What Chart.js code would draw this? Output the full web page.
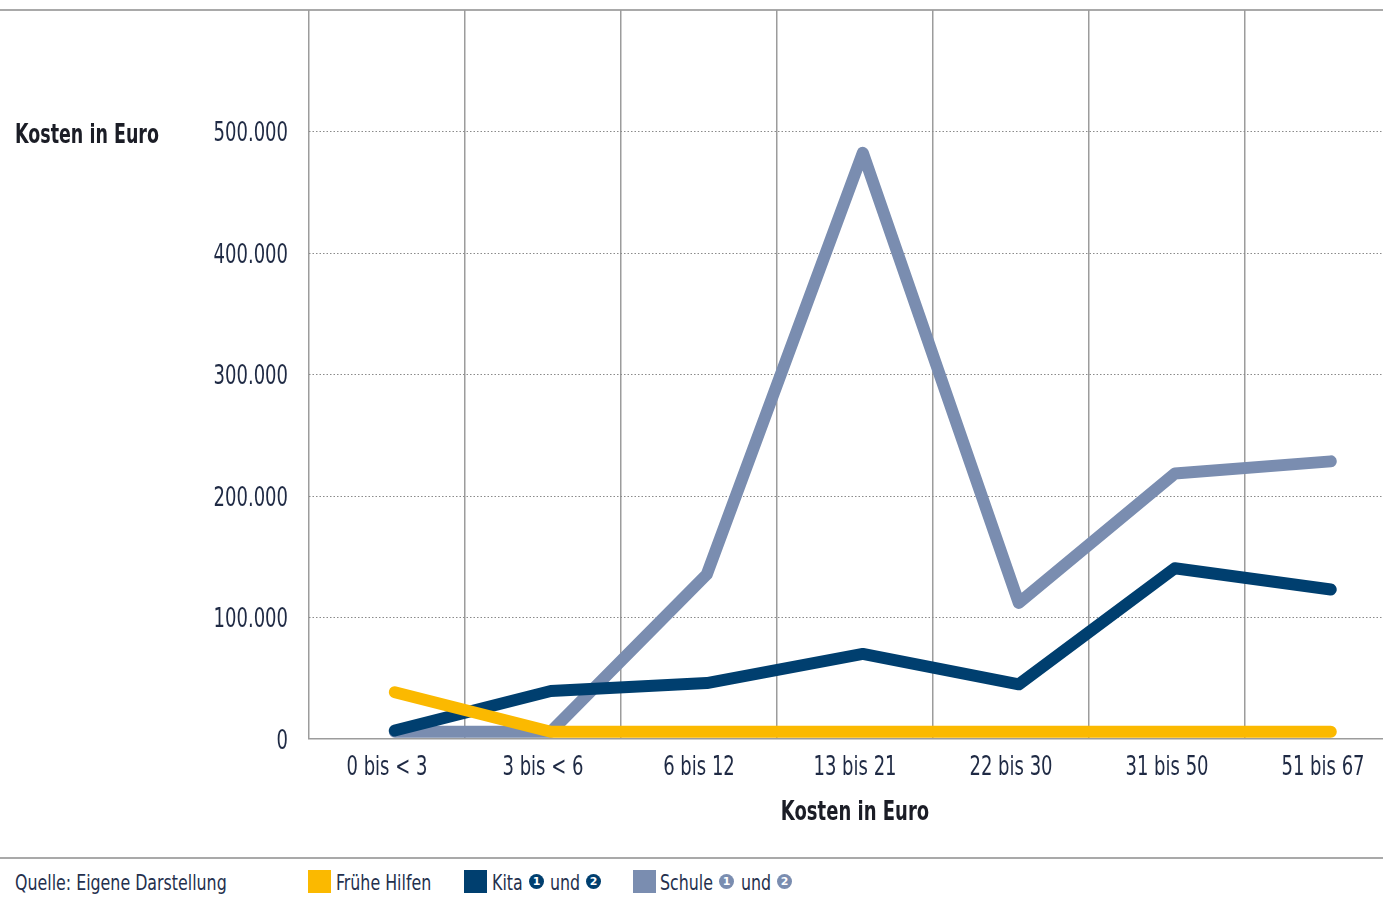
<!DOCTYPE html>
<html lang="de">
<head>
<meta charset="utf-8">
<title>Kosten in Euro</title>
<script src="https://cdn.jsdelivr.net/npm/chart.js@4.4.1/dist/chart.umd.min.js"></script>
<style>
  html, body { margin: 0; padding: 0; background: #fff; overflow: hidden; width: 1383px; height: 911px; }
  body { position: relative; font-family: 'DejaVu Sans Condensed', 'DejaVu Sans', sans-serif; color: #24304d; }
  .rule { position: absolute; left: 0; width: 1383px; height: 2px; background: #a9a9a9; }
  #wrap { position: absolute; left: 0; top: 0; width: 1401px; height: 850px; }
  .txt { position: absolute; white-space: nowrap; line-height: 1; transform-origin: 0 0; }
  #yTitle { left: 15px; top: 120px; font-size: 27px; font-weight: bold; color: #1b1d26; transform: scaleX(0.72); }
  .foot { top: 872px; font-size: 22px; transform: scaleX(0.8); }
  .sw { position: absolute; top: 870px; width: 23px; height: 23px; }
  .num { position: absolute; top: 874px; width: 15px; height: 15px; border-radius: 50%; color: #fff;
         font: bold 11px/15px 'DejaVu Sans', sans-serif; text-align: center; }
</style>
</head>
<body>
<div class="rule" style="top:9px"></div>
<div id="wrap"><canvas id="chart"></canvas></div>
<div id="yTitle" class="txt">Kosten in Euro</div>
<div class="rule" style="top:857px"></div>

<div class="txt foot" style="left:15px">Quelle: Eigene Darstellung</div>

<div class="sw" style="left:308px;background:#FBB900"></div>
<div class="txt foot" style="left:336px">Frühe Hilfen</div>

<div class="sw" style="left:464px;background:#003F6F"></div>
<div class="txt foot" style="left:492px">Kita</div>
<div class="num" style="left:529px;background:#003F6F">1</div>
<div class="txt foot" style="left:550px">und</div>
<div class="num" style="left:586px;background:#003F6F">2</div>

<div class="sw" style="left:633px;background:#7A8DB0"></div>
<div class="txt foot" style="left:660px">Schule</div>
<div class="num" style="left:719px;background:#7A8DB0">1</div>
<div class="txt foot" style="left:741px">und</div>
<div class="num" style="left:777px;background:#7A8DB0">2</div>

<script>
// Age groups on the x axis
const categories = ['0 bis < 3', '3 bis < 6', '6 bis 12', '13 bis 21', '22 bis 30', '31 bis 50', '51 bis 67'];

// Costs per age group, in euro
const fruheHilfen = [38500, 6000, 6000, 6000, 6000, 6000, 6000];
const kita = [7000, 39500, 46000, 70000, 45000, 140500, 123000];
const schule = [6000, 6000, 135500, 482500, 112000, 218500, 228500];

// Value axis
const yMin = 0;
const yMax = 600000;
const yStep = 100000;

const FONT = "'DejaVu Sans Condensed', 'DejaVu Sans', sans-serif";
const TEXT = '#1f2a44';

// Axis texts use a condensed look: squeeze every canvas label horizontally
const CONDENSE = 0.77;
const canvas = document.getElementById('chart');
const ctx2d = canvas.getContext('2d');
ctx2d.fillText = function (text, x, y, maxWidth) {
  const w = this.measureText(text).width * CONDENSE;
  const mw = maxWidth === undefined ? w : Math.min(maxWidth, w);
  return CanvasRenderingContext2D.prototype.fillText.call(this, text, x, y, mw);
};

const toPoints = arr => arr.map((v, i) => ({ x: i, y: v }));

const line = (label, values, color) => ({
  label,
  data: toPoints(values),
  xAxisID: 'xd',
  borderColor: color,
  backgroundColor: color,
  borderWidth: 12,
  borderCapStyle: 'round',
  borderJoinStyle: 'round',
  pointRadius: 0,
  tension: 0,
  fill: false
});

new Chart(canvas, {
  type: 'line',
  data: {
    labels: categories,
    datasets: [
      line('Frühe Hilfen', fruheHilfen, '#FBB900'),
      line('Kita', kita, '#003F6F'),
      line('Schule', schule, '#7A8DB0')
    ]
  },
  options: {
    responsive: true,
    maintainAspectRatio: false,
    animation: false,
    layout: { padding: { top: 10, left: 0, right: 0, bottom: 0 } },
    plugins: { legend: { display: false }, tooltip: { enabled: false } },
    scales: {
      x: {
        type: 'category',
        offset: true,
        grid: { offset: true, color: '#9c9c9c', lineWidth: 1.5, drawTicks: false },
        border: { display: true, color: '#9c9c9c', width: 1.5 },
        ticks: { color: TEXT, font: { family: FONT, size: 26 }, padding: 14, maxRotation: 0, autoSkip: false },
        title: { display: true, text: 'Kosten in Euro', color: '#1b1d26', font: { family: FONT, size: 26, weight: 'bold' }, padding: { top: 4, bottom: 21 } },
        afterFit: s => { s.height = 111; }
      },
      // hidden linear axis that places the line points inside each age band
      xd: {
        type: 'linear',
        display: false,
        min: -0.55,
        max: 6.45
      },
      y: {
        min: yMin,
        max: yMax,
        grid: {
          color: ctx => (ctx.tick && (ctx.tick.value === 0 || ctx.tick.value === yMax)) ? 'rgba(0,0,0,0)' : '#8a8a8a',
          lineWidth: 1,
          drawTicks: false
        },
        border: { display: false, dash: [1.5, 2] },
        ticks: {
          stepSize: yStep,
          color: TEXT,
          padding: 21,
          labelOffset: 3,
          font: { family: FONT, size: 26 },
          callback: v => v === yMax ? '' : v.toLocaleString('de-DE')
        },
        afterFit: s => { s.width = 309; s.paddingTop = 0; s.paddingBottom = 0; }
      }
    }
  }
});
</script>
</body>
</html>
